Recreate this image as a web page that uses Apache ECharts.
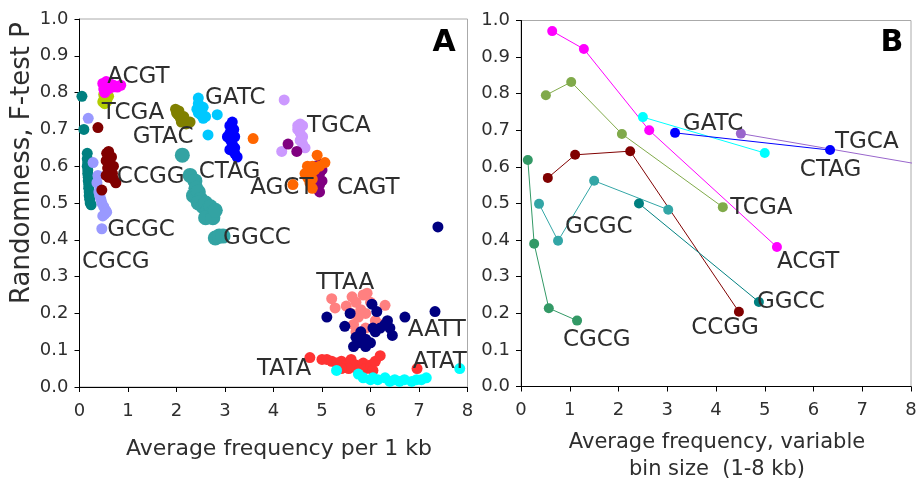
<!DOCTYPE html>
<html>
<head>
<meta charset="utf-8">
<script src="https://cdn.jsdelivr.net/npm/echarts@6/dist/echarts.min.js"></script>
<style>
  html, body { margin: 0; padding: 0; background: #fff; }
  #chart { width: 921px; height: 489px; }
</style>
</head>
<body>
<div id="chart"></div>
<script>
// panel A: scatter clusters, one per tetranucleotide
const cgcgA = [[0.05,0.79],[0.09,0.70],[0.16,0.635],[0.16,0.62],[0.17,0.61],[0.16,0.60],[0.17,0.59],[0.17,0.58],[0.18,0.57],[0.18,0.56],[0.19,0.55],[0.19,0.54],[0.2,0.53],[0.2,0.52],[0.21,0.51],[0.22,0.50],[0.24,0.495]]
const gcgcA = [[0.18,0.73],[0.28,0.61],[0.38,0.575],[0.36,0.555],[0.4,0.53],[0.42,0.52],[0.44,0.51],[0.46,0.50],[0.5,0.49],[0.54,0.48],[0.52,0.47],[0.48,0.465],[0.56,0.475],[0.46,0.43]]
const ccggA = [[0.38,0.705],[0.46,0.535],[0.56,0.635],[0.6,0.64],[0.66,0.625],[0.55,0.615],[0.62,0.61],[0.7,0.60],[0.58,0.595],[0.64,0.585],[0.55,0.575],[0.6,0.57],[0.7,0.565],[0.75,0.555],[0.68,0.58]]
const acgtA = [[0.48,0.825],[0.55,0.83],[0.62,0.825],[0.7,0.82],[0.78,0.815],[0.5,0.81],[0.6,0.81],[0.85,0.82],[0.52,0.80],[0.68,0.815]]
const tcgaA = [[0.5,0.795],[0.55,0.79],[0.5,0.78],[0.56,0.775],[0.6,0.79],[0.48,0.775],[0.52,0.77]]
const gtacA = [[1.98,0.755],[2.05,0.75],[2.03,0.74],[2.08,0.73],[2.1,0.72],[2.2,0.715],[2.28,0.72],[2.15,0.735],[2.0,0.745],[2.12,0.725]]
const gatcA = [[2.45,0.785],[2.45,0.77],[2.42,0.755],[2.5,0.75],[2.5,0.74],[2.55,0.73],[2.6,0.735],[2.45,0.745],[2.84,0.74],[2.65,0.685],[2.55,0.76]]
const ctagA = [[3.1,0.71],[3.15,0.72],[3.1,0.69],[3.05,0.68],[3.12,0.67],[3.15,0.66],[3.2,0.65],[3.1,0.645],[3.2,0.635],[3.25,0.625],[3.2,0.68],[3.18,0.70]]
const agctA = [[3.58,0.675],[4.9,0.63],[5.06,0.61],[4.7,0.60],[4.8,0.60],[4.65,0.58],[4.75,0.58],[4.85,0.59],[4.7,0.57],[4.8,0.565],[4.4,0.55],[4.8,0.54],[4.95,0.60],[4.75,0.555]]
const tgcaA = [[4.22,0.78],[4.17,0.64],[4.55,0.715],[4.6,0.71],[4.5,0.70],[4.55,0.69],[4.6,0.68],[4.55,0.67],[4.6,0.66],[4.65,0.65],[4.5,0.71]]
const cagtA = [[4.3,0.66],[4.48,0.64],[4.85,0.60],[4.95,0.605],[4.95,0.58],[4.9,0.57],[5.0,0.56],[4.95,0.55],[4.9,0.54],[4.95,0.53],[5.0,0.59]]
const ggccA = [[2.12,0.63],[2.28,0.575],[2.38,0.56],[2.4,0.54],[2.35,0.52],[2.45,0.53],[2.5,0.51],[2.45,0.50],[2.55,0.49],[2.6,0.50],[2.65,0.48],[2.7,0.49],[2.7,0.47],[2.6,0.46],[2.75,0.46],[2.8,0.48],[2.8,0.405],[2.88,0.41],[2.96,0.41]]
const ttaaA = [[5.2,0.24],[5.27,0.215],[5.5,0.22],[5.62,0.245],[5.7,0.23],[5.85,0.25],[5.93,0.255],[6.0,0.23],[5.8,0.21],[5.9,0.20],[5.75,0.19],[5.65,0.17],[5.7,0.15],[5.9,0.16],[6.3,0.222],[6.1,0.18],[6.2,0.17],[5.6,0.20]]
const aattA = [[7.39,0.435],[5.1,0.19],[5.58,0.20],[6.03,0.225],[6.13,0.205],[5.47,0.165],[6.71,0.19],[7.33,0.205],[5.7,0.135],[5.75,0.12],[5.8,0.15],[5.9,0.13],[6.0,0.12],[6.1,0.15],[6.2,0.16],[6.3,0.17],[6.4,0.16],[6.35,0.18],[6.45,0.14],[5.65,0.11],[5.9,0.11],[6.05,0.16]]
const tataA = [[4.75,0.08],[5.0,0.075],[5.1,0.075],[5.2,0.07],[5.3,0.065],[5.4,0.07],[5.5,0.06],[5.6,0.075],[5.7,0.06],[5.75,0.045],[5.85,0.065],[5.9,0.05],[6.0,0.06],[6.05,0.045],[6.1,0.07],[6.2,0.085],[5.55,0.05],[6.96,0.05],[5.4,0.05]]
const atatA = [[5.3,0.045],[5.75,0.035],[5.85,0.025],[6.0,0.02],[6.05,0.025],[6.15,0.02],[6.3,0.025],[6.4,0.015],[6.5,0.02],[6.6,0.015],[6.7,0.02],[6.85,0.015],[6.95,0.02],[7.05,0.02],[7.15,0.025],[7.84,0.05]]

// panel A text labels: [name, x, y] (left edge of text)
const labelsA = [
  ['ACGT', 0.57, 0.842], ['TCGA', 0.46, 0.745], ['GTAC', 1.10, 0.68], ['CCGG', 0.77, 0.57],
  ['GCGC', 0.57, 0.427], ['CGCG', 0.05, 0.34], ['GATC', 2.59, 0.785], ['CTAG', 2.46, 0.584],
  ['AGCT', 3.52, 0.54], ['CAGT', 5.31, 0.54], ['TGCA', 4.69, 0.709], ['GGCC', 2.96, 0.405],
  ['TTAA', 4.88, 0.283], ['AATT', 6.77, 0.155], ['ATAT', 6.87, 0.068], ['TATA', 3.66, 0.049]
]

// panel B: lines, variable bin size
const acgtB = [[0.64,0.971],[1.29,0.922],[2.63,0.70],[5.25,0.381]]
const tcgaB = [[0.51,0.796],[1.03,0.832],[2.07,0.69],[4.14,0.49]]
const gatcB = [[2.5,0.736],[5.0,0.638]]
const ctagB = [[3.16,0.693],[6.34,0.646]]
const tgcaB = [[4.51,0.691],[10.0,0.565]]
const ccggB = [[0.55,0.57],[1.11,0.633],[2.24,0.643],[4.47,0.204]]
const ggccB = [[2.42,0.50],[4.88,0.231]]
const gcgcB = [[0.37,0.499],[0.76,0.398],[1.5,0.562],[3.02,0.483]]
const cgcgB = [[0.14,0.619],[0.27,0.39],[0.57,0.214],[1.15,0.18]]

const labelsB = [
  ['GATC', 3.32, 0.717], ['TGCA', 6.44, 0.668], ['CTAG', 5.72, 0.591], ['TCGA', 4.29, 0.487],
  ['ACGT', 5.25, 0.34], ['GCGC', 0.90, 0.436], ['GGCC', 4.84, 0.23], ['CCGG', 3.49, 0.16],
  ['CGCG', 0.86, 0.128]
]

const xTicks = [0, 8, 1]
const yTicks = [0, 1, 0.1]

const FONT = 'DejaVu Sans'
const TEXT = '#2e2e2e'

const chart = echarts.init(document.getElementById('chart'))

const xAxisBase = (gridIndex) => ({
  type: 'value',
  gridIndex,
  min: xTicks[0],
  max: xTicks[1],
  interval: xTicks[2],
  axisLine: { onZero: false, lineStyle: { color: '#000', width: 1 } },
  axisTick: { length: 5, lineStyle: { color: '#000' } },
  axisLabel: { color: TEXT, fontFamily: FONT, fontSize: 18, margin: 15 },
  splitLine: { show: false },
})

const yAxisBase = (gridIndex) => ({
  type: 'value',
  gridIndex,
  min: yTicks[0],
  max: yTicks[1],
  interval: yTicks[2],
  axisLine: { onZero: false, lineStyle: { color: '#000', width: 1 } },
  axisTick: { length: 5, lineStyle: { color: '#000' } },
  axisLabel: {
    color: TEXT, fontFamily: FONT, fontSize: 18, margin: 11,
    formatter: (v) => v.toFixed(1),
  },
  splitLine: { show: false },
})

const scatterA = (data, color, size) => ({
  type: 'scatter',
  xAxisIndex: 0,
  yAxisIndex: 0,
  data,
  symbolSize: size || 11,
  itemStyle: { color, opacity: 1 },
  silent: true,
})

const lineB = (data, color) => ({
  type: 'line',
  xAxisIndex: 1,
  yAxisIndex: 1,
  data,
  symbol: 'circle',
  symbolSize: 10,
  showSymbol: true,
  clip: true,
  lineStyle: { color, width: 1 },
  itemStyle: { color, borderWidth: 0 },
  silent: true,
})

const textSeries = (labels, idx) => ({
  type: 'scatter',
  xAxisIndex: idx,
  yAxisIndex: idx,
  symbolSize: 0,
  itemStyle: { opacity: 1 },
  data: labels.map((l) => ({ value: [l[1], l[2]], name: l[0] })),
  label: {
    show: true,
    position: 'right',
    distance: 0,
    formatter: (p) => p.name,
    color: TEXT,
    opacity: 1,
    fontFamily: FONT,
    fontSize: 23,
  },
  silent: true,
  z: 10,
})

const option = {
  animation: false,
  textStyle: { fontFamily: FONT },
  grid: [
    { left: 79.5, top: 19, width: 388, height: 368, show: true, borderColor: '#aaa', borderWidth: 1 },
    { left: 521, top: 20.5, width: 390, height: 366, show: true, borderColor: '#aaa', borderWidth: 1 },
  ],
  xAxis: [xAxisBase(0), xAxisBase(1)],
  yAxis: [yAxisBase(0), yAxisBase(1)],
  series: [
    scatterA(ggccA, '#33a3a3', 15),
    scatterA(cgcgA, '#008080'),
    scatterA(gcgcA, '#9999ff'),
    scatterA(ccggA, '#800000'),
    scatterA(tcgaA, '#b3cc00'),
    scatterA(acgtA, '#ff00ff'),
    scatterA(gtacA, '#808000'),
    scatterA(gatcA, '#00c8ff'),
    scatterA(ctagA, '#0000ff'),
    scatterA(tgcaA, '#cc99ff'),
    scatterA(cagtA, '#800080'),
    scatterA(agctA, '#ff6600'),
    scatterA(ttaaA, '#ff8080'),
    scatterA(aattA, '#000080'),
    scatterA(tataA, '#ff3333'),
    scatterA(atatA, '#00ffff'),
    textSeries(labelsA, 0),
    lineB(acgtB, '#ff00ff'),
    lineB(tcgaB, '#80aa4a'),
    lineB(gatcB, '#00ffff'),
    lineB(ctagB, '#0000ff'),
    lineB(tgcaB, '#9966cc'),
    lineB(ccggB, '#800000'),
    lineB(ggccB, '#008080'),
    lineB(gcgcB, '#33a6a6'),
    lineB(cgcgB, '#339966'),
    textSeries(labelsB, 1),
  ],
  graphic: [
    { type: 'text', x: 444, y: 43, style: { text: 'A', font: 'bold 30px "DejaVu Sans"', fill: '#000', align: 'center', verticalAlign: 'middle' } },
    { type: 'text', x: 892, y: 43, style: { text: 'B', font: 'bold 30px "DejaVu Sans"', fill: '#000', align: 'center', verticalAlign: 'middle' } },
    { type: 'text', x: 22, y: 163, rotation: Math.PI / 2, style: { text: 'Randomness, F-test P', font: '26px "DejaVu Sans"', fill: TEXT, align: 'center', verticalAlign: 'middle' } },
    { type: 'text', x: 279, y: 449, style: { text: 'Average frequency per 1 kb', font: '22px "DejaVu Sans"', fill: TEXT, align: 'center', verticalAlign: 'middle' } },
    { type: 'text', x: 717, y: 456, style: { text: 'Average frequency, variable\nbin size  (1-8 kb)', font: '21px "DejaVu Sans"', lineHeight: 27, fill: TEXT, align: 'center', verticalAlign: 'middle' } },
  ],
}

chart.setOption(option)
</script>
</body>
</html>
